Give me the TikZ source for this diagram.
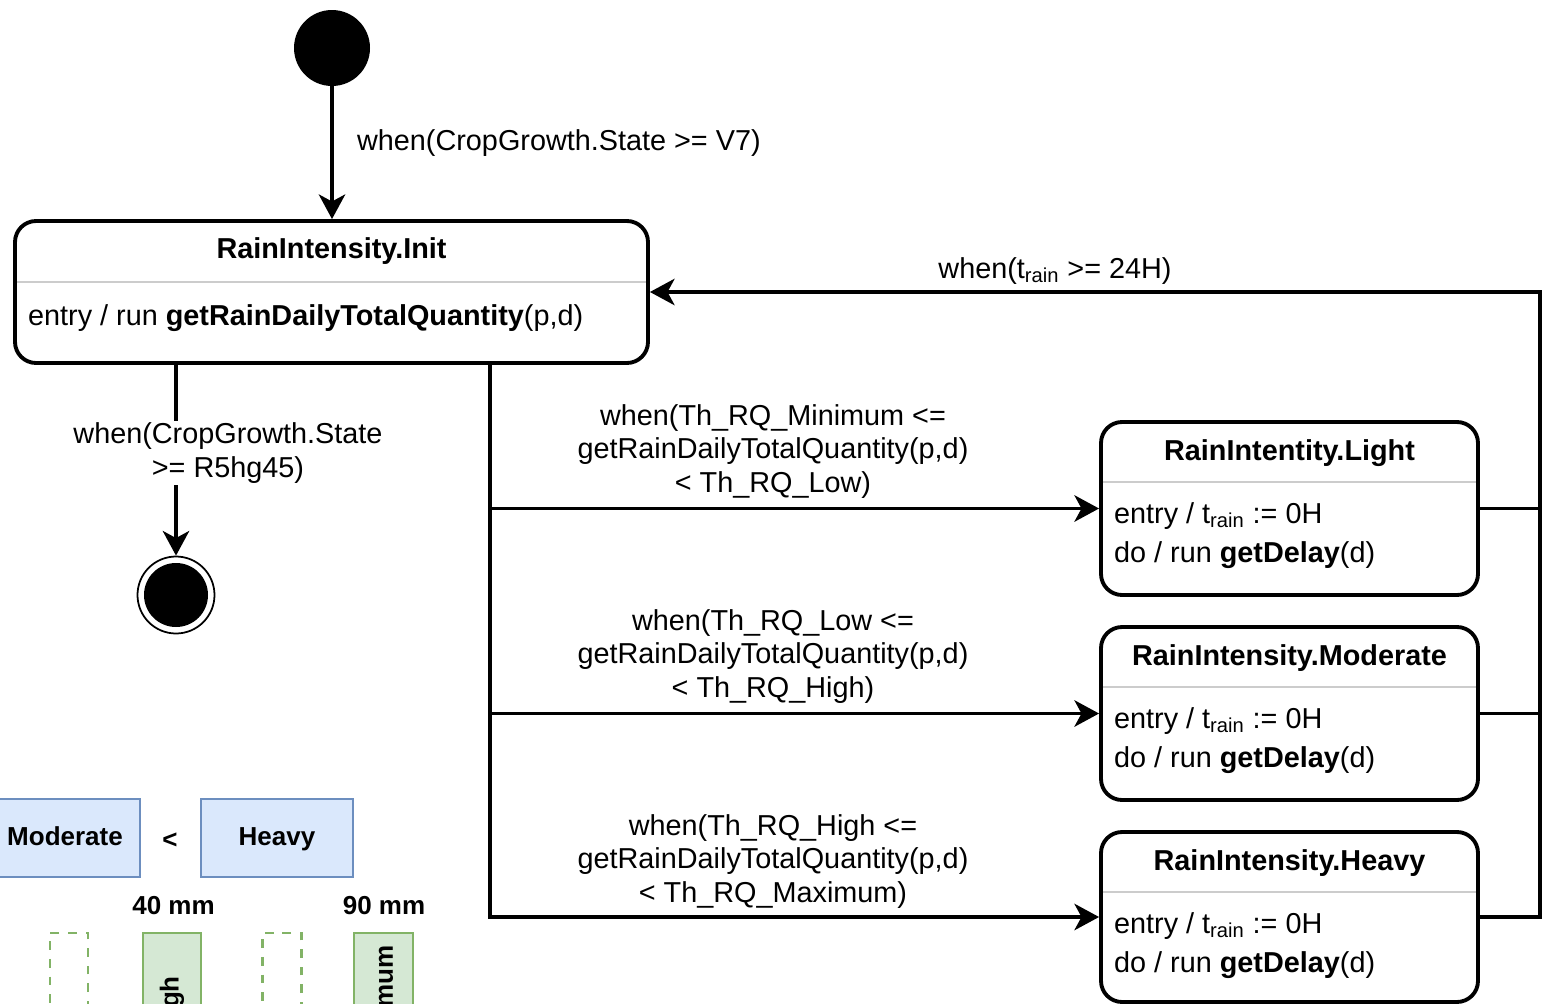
\documentclass[tikz,border=0pt]{standalone}
\usepackage{fontspec}
\setmainfont{Liberation Sans}
\usetikzlibrary{positioning,arrows.meta,calc}
\newcommand{\dfont}{\fontsize{16.4}{18.8}\selectfont}
\newcommand{\lfont}{\fontsize{14.8}{17.8}\selectfont\bfseries}
\newcommand{\upx}{0.02cm}
\definecolor{bandline}{HTML}{6C8EBF}
\definecolor{bandfill}{HTML}{DAE8FC}
\definecolor{limline}{HTML}{82B366}
\definecolor{limfill}{HTML}{D5E8D4}

\begin{document}
\begin{tikzpicture}[x=0.02cm,y=-0.02cm,font=\dfont,
    state/.style={draw,line width=2.2pt,rounded corners=12pt,inner sep=0pt},
    sep/.style={line width=0.9pt,draw=black!20},
    txt/.style={inner sep=1pt},
    title/.style={inner sep=1pt,font=\dfont\bfseries,anchor=base},
    guard/.style={align=center,inner sep=1pt,anchor=base},
    startdot/.style={circle,fill=black,minimum size=76*\upx,inner sep=0pt},
    enddot/.style={circle,draw,line width=1pt,minimum size=77*\upx,inner sep=0pt,
        path picture={\fill (path picture bounding box.center) circle (32*\upx);}},
    bandbox/.style={draw=bandline,fill=bandfill,line width=0.8pt,font=\lfont,inner sep=0pt,
        text height=2ex,text depth=0.35ex,minimum height=78*\upx},
    gapbox/.style={draw=limline,line width=1.2pt,dash pattern=on 5pt off 5pt,minimum height=144*\upx},
    limbox/.style={draw=limline,fill=limfill,line width=0.8pt,minimum height=144*\upx}]
            \useasboundingbox (0,0) rectangle (1542,1004);
            \clip (0,0) rectangle (1542,1004);

            \node[startdot] (start) at (332,48) {};
            \node[state,minimum width=633*\upx,minimum height=142*\upx] (init) at (331.5,292) {};
            \node[title] (init-name) at (331.5,258) {RainIntensity.Init};
            \draw[sep] (17,282) -- (646,282);
            \node[txt,anchor=base west] (init-entry) at (26,325) {entry / run \textbf{getRainDailyTotalQuantity}(p,d)};

            \node[enddot] (stop) at (176,595) {};

            \node[state,minimum width=377*\upx,minimum height=173*\upx] (light) at (1289.5,508.5) {};
            \node[title] (light-name) at (1289.5,460) {RainIntentity.Light};
            \draw[sep] (1103,482) -- (1476,482);
            \node[txt,anchor=base west] (light-entry) at (1112,523) {entry / t\textsubscript{rain} := 0H};
            \node[txt,anchor=base west] (light-do) at (1112,562) {do / run \textbf{getDelay}(d)};

            \node[state,minimum width=377*\upx,minimum height=173*\upx] (moderate) at (1289.5,713.5) {};
            \node[title] (moderate-name) at (1289.5,665) {RainIntensity.Moderate};
            \draw[sep] (1103,687) -- (1476,687);
            \node[txt,anchor=base west] (moderate-entry) at (1112,728) {entry / t\textsubscript{rain} := 0H};
            \node[txt,anchor=base west] (moderate-do) at (1112,767) {do / run \textbf{getDelay}(d)};

            \node[state,minimum width=377*\upx,minimum height=170*\upx] (heavy) at (1289.5,917) {};
            \node[title] (heavy-name) at (1289.5,870) {RainIntensity.Heavy};
            \draw[sep] (1103,892) -- (1476,892);
            \node[txt,anchor=base west] (heavy-entry) at (1112,933) {entry / t\textsubscript{rain} := 0H};
            \node[txt,anchor=base west] (heavy-do) at (1112,972) {do / run \textbf{getDelay}(d)};

            \coordinate (fork) at (init.south -| 490,0);
            \coordinate (back) at (init.east -| 1540,0);

            \begin{scope}[line width=2.2pt,-{Stealth[length=14pt,width=15pt,inset=4pt]}]
                \draw (start) -- (start |- init.north);
                \draw (init.south -| stop) -- (stop);
                \draw (fork) |- (light.west);
                \draw (fork) |- (moderate.west);
                \draw (fork) |- (heavy.west);
                \draw (heavy.east) -| (back) -- (init.east);
            \end{scope}
            \draw[line width=2.2pt] (light.east) -- (light.east -| back);
            \draw[line width=2.2pt] (moderate.east) -- (moderate.east -| back);

            \node[txt,anchor=base west] (g-start) at (355,150) {when(CropGrowth.State >= V7)};
            \node[guard,fill=white] (g-stop) at (228,477) {when(CropGrowth.State\\>= R5hg45)};
            \node[guard] (g-light) at (773,492) {when(Th\_RQ\_Minimum <=\\getRainDailyTotalQuantity(p,d)\\< Th\_RQ\_Low)};
            \node[guard] (g-moderate) at (773,697) {when(Th\_RQ\_Low <=\\getRainDailyTotalQuantity(p,d)\\< Th\_RQ\_High)};
            \node[guard] (g-heavy) at (773,902) {when(Th\_RQ\_High <=\\getRainDailyTotalQuantity(p,d)\\< Th\_RQ\_Maximum)};
            \node[guard] (g-back) at (1055,278) {when(t\textsubscript{rain} >= 24H)};

            \node[bandbox,minimum width=150*\upx] (band-moderate) at (65,838) {Moderate};
            \node[font=\lfont] (band-less) at (170,841) {<};
            \node[bandbox,minimum width=152*\upx] (band-heavy) at (277,838) {Heavy};
            \node[font=\lfont] (mm-40) at (173.5,906) {40 mm};
            \node[font=\lfont] (mm-90) at (384,906) {90 mm};
            \node[gapbox,minimum width=38*\upx] (gap-a) at (69,1005) {};
            \node[limbox,minimum width=58*\upx] (lim-high) at (172,1005) {};
            \node[font=\lfont,rotate=90] (lim-high-txt) at (lim-high) {High};
            \node[gapbox,minimum width=39*\upx] (gap-b) at (282,1005) {};
            \node[limbox,minimum width=59*\upx] (lim-max) at (383.5,1005) {};
            \node[font=\lfont,rotate=90] (lim-max-txt) at (lim-max) {Maximum};
        \end{tikzpicture}
\end{document}
